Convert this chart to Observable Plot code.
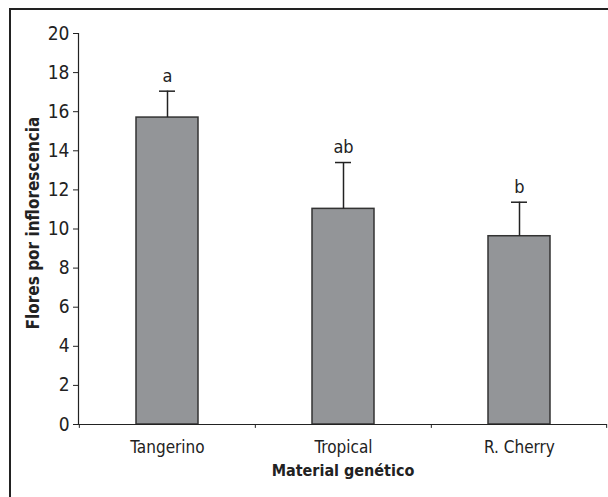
<!DOCTYPE html>
<html>
<head>
<meta charset="utf-8">
<script src="https://cdn.jsdelivr.net/npm/d3@7"></script>
<script src="https://cdn.jsdelivr.net/npm/@observablehq/plot@0.6"></script>
<style>
  html, body { margin: 0; padding: 0; background: #fff; }
  #wrap { position: relative; width: 608px; height: 497px; overflow: hidden; }
  #border { position: absolute; left: 9px; top: 8px; right: -5px; bottom: -5px;
            border-left: 2px solid #222; border-top: 2px solid #222; }
  #chart { position: absolute; left: 0; top: 0; }
  svg text { fill: #222; }
</style>
</head>
<body>
<div id="wrap"><div id="border"></div><div id="chart"></div></div>
<script>
const categories = ["Tangerino", "Tropical", "R. Cherry"];
const means = [15.7, 11.03, 9.63];
const errors = [1.35, 2.37, 1.74];
const letters = ["a", "ab", "b"];
const yTicks = [0, 2, 4, 6, 8, 10, 12, 14, 16, 18, 20];

const data = categories.map((c, i) => ({cat: c, mean: means[i], hi: means[i] + errors[i], letter: letters[i]}));

const W = 608, H = 497, mL = 78, mR = 1, mT = 33, mB = 73;
const bw = (W - mL - mR) / categories.length;
const font = "'DejaVu Sans Condensed', 'DejaVu Sans', sans-serif";

const plot = Plot.plot({
  width: W, height: H,
  marginLeft: mL, marginRight: mR, marginTop: mT, marginBottom: mB,
  style: {fontFamily: font, fontStretch: "condensed", fontSize: "17px", color: "#222", background: "transparent"},
  x: {domain: categories, padding: 0, label: null},
  y: {domain: [0, 20], label: null},
  marks: [
    Plot.barY(data, {x: "cat", y: "mean", fill: "#939598", stroke: "#333", strokeWidth: 1.5, insetLeft: 57, insetRight: 57}),
    Plot.ruleX(data, {x: "cat", y1: "mean", y2: "hi", stroke: "#222", strokeWidth: 1.5}),
    Plot.tickY(data, {x: "cat", y: "hi", stroke: "#222", strokeWidth: 1.5, insetLeft: 80, insetRight: 80}),
    Plot.text(data, {x: "cat", y: "hi", text: "letter", dy: -15, fontSize: 18, fill: "#222"}),
    Plot.frame({anchor: "left", stroke: "#222", strokeWidth: 1.2}),
    Plot.ruleY([0], {stroke: "#222", strokeWidth: 1.2}),
    Plot.ruleX(categories, {x: d => d, dx: -bw / 2, y1: 0, y2: -0.2, stroke: "#222"}),
    Plot.ruleX([categories[categories.length - 1]], {x: d => d, dx: bw / 2 - 1, y1: 0, y2: -0.2, stroke: "#222"}),
    Plot.axisY({ticks: yTicks, tickSize: 5, tickPadding: 4, fontSize: 19, label: null, stroke: "#222"}),
    Plot.axisX({tickSize: 0, tickPadding: 16, fontSize: 17, label: null}),
    Plot.text(["Material genético"], {frameAnchor: "bottom", dy: 51, fontWeight: "bold", fontSize: 16, fill: "#222"}),
    Plot.text(["Flores por inflorescencia"], {frameAnchor: "left", textAnchor: "middle", rotate: -90, dx: -45, dy: -6, fontWeight: "bold", fontSize: 17, fill: "#222"})
  ]
});
document.getElementById("chart").appendChild(plot);
</script>
</body>
</html>
